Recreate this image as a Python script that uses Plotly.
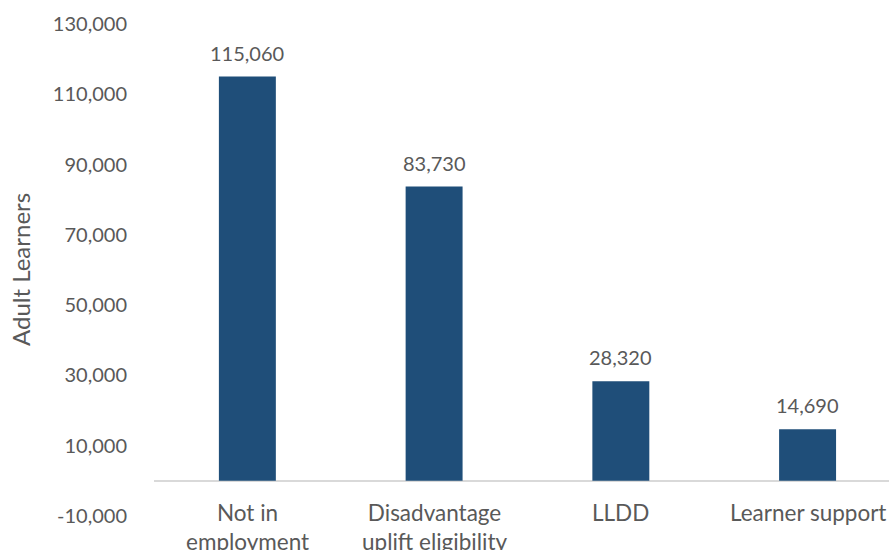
import plotly.graph_objects as go

categories = ["Not in<br>employment", "Disadvantage<br>uplift eligibility", "LLDD", "Learner support"]
learners = [115060, 83730, 28320, 14690]
tick_values = [-10000, 10000, 30000, 50000, 70000, 90000, 110000, 130000]
tick_labels = ["-10,000", "10,000", "30,000", "50,000", "70,000", "90,000", "110,000", "130,000"]

FONT = "Lato"
GREY = "#595959"
BAR = "#1F4E79"

x_pos = list(range(len(categories)))

fig = go.Figure(
    go.Bar(
        x=x_pos,
        y=learners,
        marker=dict(color=BAR, line=dict(width=0)),
        width=0.305,
        hoverinfo="skip",
    )
)

# value labels above each bar
for xi, v in zip(x_pos, learners):
    fig.add_annotation(
        x=xi, y=v, xref="x", yref="y",
        text=f"{v:,}", showarrow=False,
        yanchor="bottom", yshift=10,
        font=dict(family=FONT, size=20, color=GREY),
    )

# category labels sit just under the zero line
for xi, cat in zip(x_pos, categories):
    fig.add_annotation(
        x=xi, y=0, xref="x", yref="y",
        text=cat, showarrow=False,
        yanchor="top", yshift=-16,
        font=dict(family=FONT, size=22.5, color=GREY),
    )

# vertical axis title
fig.add_annotation(
    x=0, y=0.5, xref="paper", yref="paper",
    text="Adult Learners", textangle=-90, showarrow=False,
    xanchor="center", yanchor="middle", xshift=-134,
    font=dict(family=FONT, size=24, color=GREY),
)

fig.update_layout(
    width=889, height=550,
    margin=dict(l=154, r=0, t=24, b=34),
    paper_bgcolor="white", plot_bgcolor="white",
    showlegend=False,
    font=dict(family=FONT, size=20, color=GREY),
)
fig.update_xaxes(
    range=[-0.5, 3.436], showticklabels=False, showgrid=False,
    zeroline=False, showline=False, ticks="",
)
fig.update_yaxes(
    range=[-10000, 130000], tickvals=tick_values, ticktext=tick_labels,
    showgrid=False, showline=False, ticks="",
    zeroline=True, zerolinecolor="#D9D9D9", zerolinewidth=2,
    ticklabelstandoff=26,
    tickfont=dict(family=FONT, size=20, color=GREY),
)

fig.write_html("out.html")
